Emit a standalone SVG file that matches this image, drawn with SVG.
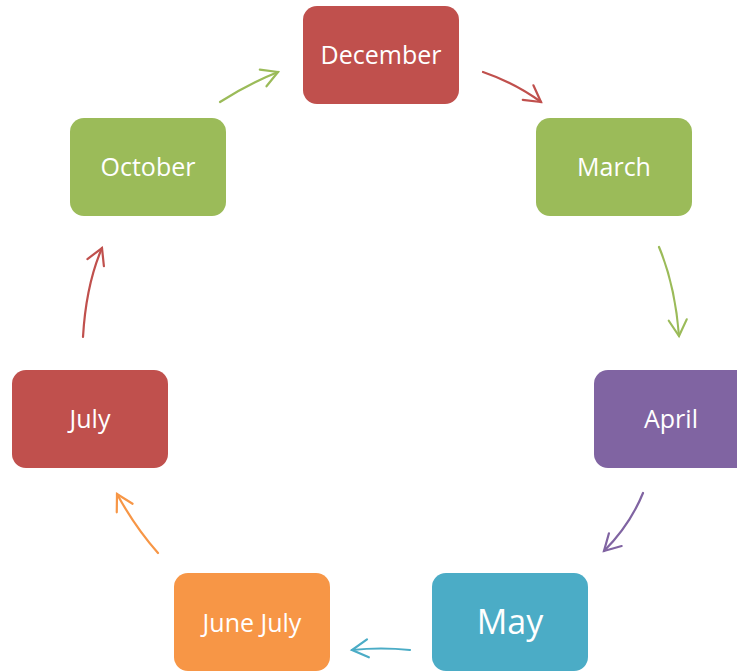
<svg xmlns="http://www.w3.org/2000/svg" width="737" height="671" viewBox="0 0 737 671">
<defs>
<style>
.box{stroke:none}
.lbl{font-family:"Open Sans","Liberation Sans",sans-serif;font-size:25px;fill:#ffffff;text-anchor:middle;dominant-baseline:central}
.c{fill:none;stroke-width:2.2;stroke-linecap:round}
</style>
<marker id="aG" markerUnits="userSpaceOnUse" markerWidth="30" markerHeight="30" refX="0" refY="0" viewBox="-20 -15 25 30" orient="auto"><path d="M-16,-9 L0,0 L-16,9" fill="none" stroke="#9BBB59" stroke-width="2.2" stroke-linecap="round"/></marker>
<marker id="aR" markerUnits="userSpaceOnUse" markerWidth="30" markerHeight="30" refX="0" refY="0" viewBox="-20 -15 25 30" orient="auto"><path d="M-16,-9 L0,0 L-16,9" fill="none" stroke="#C0504D" stroke-width="2.2" stroke-linecap="round"/></marker>
<marker id="aP" markerUnits="userSpaceOnUse" markerWidth="30" markerHeight="30" refX="0" refY="0" viewBox="-20 -15 25 30" orient="auto"><path d="M-16,-9 L0,0 L-16,9" fill="none" stroke="#8064A2" stroke-width="2.2" stroke-linecap="round"/></marker>
<marker id="aT" markerUnits="userSpaceOnUse" markerWidth="30" markerHeight="30" refX="0" refY="0" viewBox="-20 -15 25 30" orient="auto"><path d="M-16,-9 L0,0 L-16,9" fill="none" stroke="#4BACC6" stroke-width="2.2" stroke-linecap="round"/></marker>
<marker id="aO" markerUnits="userSpaceOnUse" markerWidth="30" markerHeight="30" refX="0" refY="0" viewBox="-20 -15 25 30" orient="auto"><path d="M-16,-9 L0,0 L-16,9" fill="none" stroke="#F79646" stroke-width="2.2" stroke-linecap="round"/></marker>
</defs>
<rect width="737" height="671" fill="#ffffff"/>
<g id="connectors">
<path class="c" stroke="#9BBB59" d="M220,102 Q248,84 278,72" marker-end="url(#aG)"/>
<path class="c" stroke="#C0504D" d="M483,72 Q515,83 541,102" marker-end="url(#aR)"/>
<path class="c" stroke="#9BBB59" d="M659,247 Q675,285 679,336" marker-end="url(#aG)"/>
<path class="c" stroke="#8064A2" d="M643,493 Q630,525 604,551" marker-end="url(#aP)"/>
<path class="c" stroke="#4BACC6" d="M410,650 Q381,647 352,650" marker-end="url(#aT)"/>
<path class="c" stroke="#F79646" d="M158,553 Q135,527 117,494" marker-end="url(#aO)"/>
<path class="c" stroke="#C0504D" d="M83,337 Q86,285 102,248" marker-end="url(#aR)"/>
</g>
<g id="december"><rect class="box" x="303" y="6" width="156" height="98" rx="14" fill="#C0504D"/><text class="lbl" x="381" y="54">December</text></g>
<g id="march"><rect class="box" x="536" y="118" width="156" height="98" rx="14" fill="#9BBB59"/><text class="lbl" x="614" y="166">March</text></g>
<g id="april"><rect class="box" x="594" y="370" width="156" height="98" rx="14" fill="#8064A2"/><text class="lbl" x="671" y="418">April</text></g>
<g id="may"><rect class="box" x="432" y="573" width="156" height="98" rx="14" fill="#4BACC6"/><text class="lbl" x="510" y="621" style="font-size:34px">May</text></g>
<g id="junejuly"><rect class="box" x="174" y="573" width="156" height="98" rx="14" fill="#F79646"/><text class="lbl" x="252" y="622">June July</text></g>
<g id="july"><rect class="box" x="12" y="370" width="156" height="98" rx="14" fill="#C0504D"/><text class="lbl" x="90" y="418">July</text></g>
<g id="october"><rect class="box" x="70" y="118" width="156" height="98" rx="14" fill="#9BBB59"/><text class="lbl" x="148" y="166">October</text></g>
</svg>
